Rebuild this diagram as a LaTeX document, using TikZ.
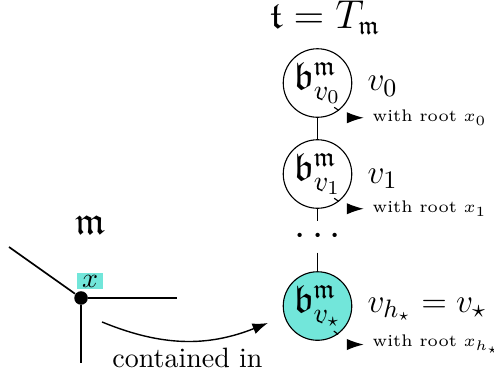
\documentclass[tikz,border=0pt]{standalone}
\usepackage{amsmath}
\usepackage{amssymb}
\usepackage{xcolor}
\usepackage{tikz}
\usetikzlibrary{positioning,arrows.meta,calc}
\definecolor{rootcyan}{RGB}{114,230,218}

\begin{document}
\begin{tikzpicture}[
  font=\fontsize{14}{16}\selectfont,
  bag/.style={draw, circle, minimum size=8.6mm, inner sep=0pt, fill=white},
  bagname/.style={anchor=base west, inner sep=0pt, font=\fontsize{12.6}{15}\selectfont},
  rootnote/.style={anchor=base west, inner sep=0pt, font=\fontsize{6}{8}\selectfont},
  tree/.style={line width=.5pt},
  part/.style={semithick},
  rootflow/.style={-{Latex[length=6pt,width=4pt]}, dash pattern=on 2pt off 5pt, shorten >=3pt},
  flow/.style={-{Latex[length=5.5pt,width=4pt]}, line width=.5pt}
]
  \useasboundingbox (0,0) rectangle (6.2,4.807);
  % decomposition of T_m
  \node[inner sep=0pt, font=\fontsize{13.4}{16}\selectfont] (title) at (4.079,4.58) {$\mathfrak{t} = T_{\mathfrak{m}}$};
  \node[bag] (b0) at (3.985,3.765) {$\mathfrak{b}^{\mathfrak{m}}_{v_0}$};
  \node[bag] (b1) at (3.985,2.623) {$\mathfrak{b}^{\mathfrak{m}}_{v_1}$};
  \node[inner sep=0pt, minimum height=3.8mm] (dots) at (4.029,1.832) {$\cdots$};
  \node[bag, fill=rootcyan] (bs) at (3.985,0.966) {$\mathfrak{b}^{\mathfrak{m}}_{v_\star}$};
  \draw[tree] (b0) -- (b1);
  \draw[tree] (b1) -- (b1 |- dots.north);
  \draw[tree] (bs |- dots.south) -- (bs);
  \node[bagname] (v0) at (4.606,3.665) {$v_0$};
  \node[bagname] (v1) at (4.606,2.51) {$v_1$};
  \node[bagname] (vs) at (4.606,0.891) {$v_{h_\star} = v_\star$};
  \node[rootnote] (wr0) at (4.67,3.276) {with root $x_0$};
  \node[rootnote] (wr1) at (4.67,2.134) {with root $x_1$};
  \node[rootnote] (wrs) at (4.67,0.452) {with root $x_{h_\star}$};
  \draw[rootflow] ([yshift=-.176cm]b0.center) to[out=-30,in=180] (wr0.west);
  \draw[rootflow] ([yshift=-.176cm]b1.center) to[out=-30,in=180] (wr1.west);
  \draw[rootflow] ([yshift=-.176cm]bs.center) to[out=-30,in=180] (wrs.west);

  % the part m around x
  \node (mlabel) at (1.13,1.983) {$\mathfrak{m}$};
  \node[circle, fill, inner sep=0pt, minimum size=1.7mm] (junction) at (1.017,1.067) {};
  \coordinate (mleft) at (0.113,1.707);
  \coordinate (mright) at (2.221,1.067);
  \coordinate (mdown) at (1.017,0.251);
  \draw[part] (mleft) -- (junction);
  \draw[part] (junction) -- (mright);
  \draw[part] (junction) -- (mdown);
  \node[fill=rootcyan, inner xsep=1.8pt, inner ysep=.7pt, font=\normalsize] (xlabel) at (1.13,1.28) {$x$};
  \coordinate (cfrom) at (1.28,0.766);
  \coordinate (cto) at (3.363,0.753);
  \draw[flow] (cfrom) to[bend right=22] (cto);
  \node[anchor=base, font=\normalsize] (contained) at (2.353,0.2) {contained in};
\end{tikzpicture}
\end{document}
